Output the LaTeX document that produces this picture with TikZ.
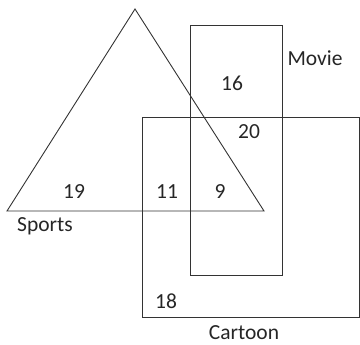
\documentclass[tikz,border=0pt]{standalone}
\usepackage{fontspec}
\setmainfont{Carlito}
\usepackage{tikz}
\usetikzlibrary{positioning,calc}
\tikzstyle{setline}=[draw=black!80, line width=0.9pt]
\tikzstyle{countlabel}=[inner sep=0pt, font=\fontsize{21.5}{25}\selectfont, text=black!85]
\tikzstyle{setlabel}=[inner sep=0pt, font=\fontsize{21.5}{25}\selectfont, text=black!85]

\begin{document}
\begin{tikzpicture}[x=1pt,y=-1pt]
        \useasboundingbox (0,0) rectangle (360,345);
        % sets
        \coordinate (apex) at (135,9);
        \coordinate (bl) at (7,211);
        \coordinate (br) at (264,211);
        \draw[setline] (apex) -- (bl) -- (br) -- cycle;
        \draw[setline] (190,25) rectangle (282,275);
        \draw[setline] (142,117) rectangle (359.5,317);
        % set names
        \node[setlabel] (movie) at (315,58) {Movie};
        \node[setlabel] (sports) at (45,226) {Sports};
        \node[setlabel] (cartoon) at (244,333) {Cartoon};
        % counts
        \node[countlabel] (n16) at (232,83) {16};
        \node[countlabel] (n20) at (249,132) {20};
        \node[countlabel] (n19) at (74,192) {19};
        \node[countlabel] (n11) at (167,192) {11};
        \node[countlabel] (n9) at (220,192) {9};
        \node[countlabel] (n18) at (166,301) {18};
      \end{tikzpicture}
\end{document}
